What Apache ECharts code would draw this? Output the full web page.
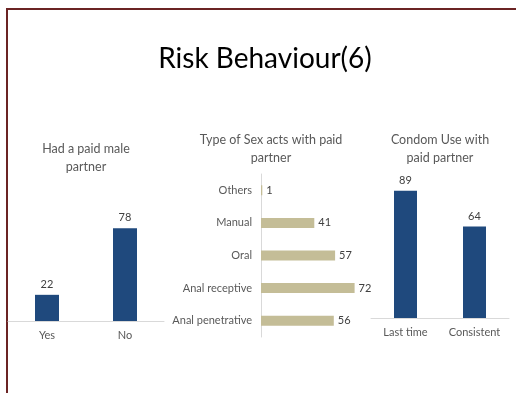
<!DOCTYPE html>
<html>
<head>
<meta charset="utf-8">
<script src="https://cdn.jsdelivr.net/npm/echarts@6/dist/echarts.min.js"></script>
<style>
html,body{margin:0;padding:0;background:#fff;}
#c{width:516px;height:393px;}
</style>
</head>
<body>
<div id="c"></div>
<script>
const mainTitle = 'Risk Behaviour(6)';

const paidTitle = 'Had a paid male\npartner';
const paidCats = ['Yes', 'No'];
const paidVals = [22, 78];

const actsTitle = 'Type of Sex acts with paid\npartner';
const actsCats = ['Others', 'Manual', 'Oral', 'Anal receptive', 'Anal penetrative'];
const actsVals = [1, 41, 57, 72, 56];

const condomTitle = 'Condom Use with\npaid partner';
const condomCats = ['Last time', 'Consistent'];
const condomVals = [89, 64];

const FONT = 'Lato, "Open Sans", sans-serif';
const BLUE = '#1f497d';
const TAN = '#c4bd97';
const AXIS = '#d9d9d9';
const TXT = '#595959';
const LBL = '#404040';

const chart = echarts.init(document.getElementById('c'), null, {renderer: 'canvas'});

function subTitle(text, x, y) {
  return {
    text: text, left: x, top: y, textAlign: 'center', padding: 0,
    textStyle: {fontFamily: FONT, fontSize: 12.5, fontWeight: 'normal', color: TXT, lineHeight: 18}
  };
}

const catAxisStyle = {
  axisLine: {show: true, lineStyle: {color: AXIS, width: 1}},
  axisTick: {show: false},
  axisLabel: {fontFamily: FONT, fontSize: 11, color: TXT, margin: 9},
  splitLine: {show: false}
};
const valAxisHidden = {
  type: 'value', min: 0, max: 100, show: false, splitLine: {show: false}
};

chart.setOption({
  animation: false,
  backgroundColor: '#ffffff',
  title: [
    {text: mainTitle, left: 265, top: 45, textAlign: 'center', padding: 0,
     textStyle: {fontFamily: FONT, fontSize: 28, fontWeight: 'normal', color: '#000000'}},
    subTitle(paidTitle, 86, 140),
    subTitle(actsTitle, 271, 131),
    subTitle(condomTitle, 440, 131)
  ],
  graphic: [
    {type: 'line', shape: {x1: 6, y1: 9, x2: 516, y2: 9}, style: {stroke: '#6b2424', lineWidth: 2}},
    {type: 'line', shape: {x1: 7, y1: 8, x2: 7, y2: 393}, style: {stroke: '#6b2424', lineWidth: 2}}
  ],
  grid: [
    {left: 8, top: 202, width: 156, height: 119},
    {left: 261, top: 174, width: 130, height: 163},
    {left: 371, top: 175, width: 138, height: 143}
  ],
  xAxis: [
    Object.assign({type: 'category', data: paidCats, gridIndex: 0}, catAxisStyle),
    Object.assign({gridIndex: 1}, valAxisHidden),
    Object.assign({type: 'category', data: condomCats, gridIndex: 2}, catAxisStyle)
  ],
  yAxis: [
    Object.assign({gridIndex: 0}, valAxisHidden),
    Object.assign({type: 'category', data: actsCats, gridIndex: 1, inverse: true}, catAxisStyle),
    Object.assign({gridIndex: 2}, valAxisHidden)
  ],
  series: [
    {type: 'bar', xAxisIndex: 0, yAxisIndex: 0, data: paidVals, barWidth: 24,
     itemStyle: {color: BLUE},
     label: {show: true, position: 'top', distance: 5, fontFamily: FONT, fontSize: 11, color: LBL}},
    {type: 'bar', xAxisIndex: 1, yAxisIndex: 1, data: actsVals, barWidth: 10,
     itemStyle: {color: TAN},
     label: {show: true, position: 'right', distance: 4, fontFamily: FONT, fontSize: 11, color: LBL}},
    {type: 'bar', xAxisIndex: 2, yAxisIndex: 2, data: condomVals, barWidth: 23,
     itemStyle: {color: BLUE},
     label: {show: true, position: 'top', distance: 5, fontFamily: FONT, fontSize: 11, color: LBL}}
  ]
});
</script>
</body>
</html>
